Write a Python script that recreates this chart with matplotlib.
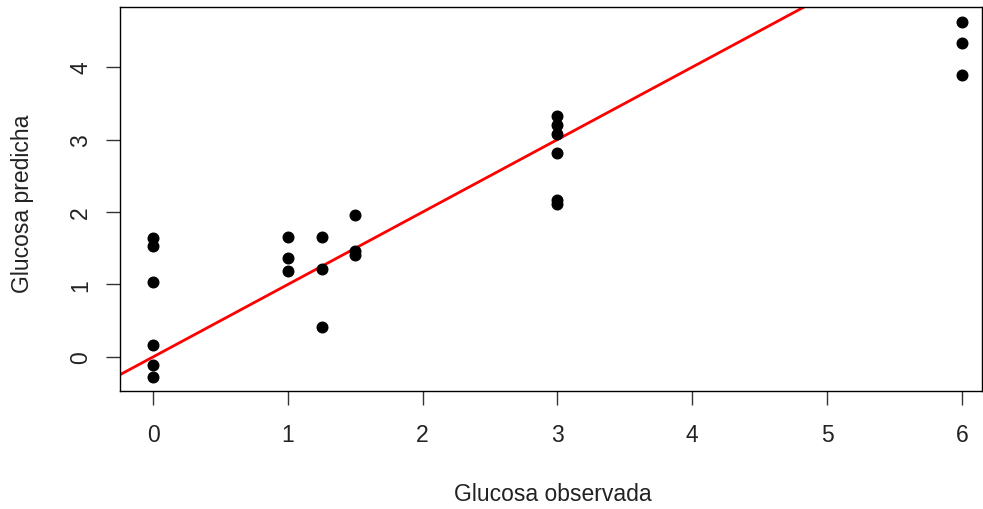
import matplotlib.pyplot as plt
import numpy as np

plt.rcParams['font.family'] = ['Liberation Sans', 'DejaVu Sans']

# observed vs predicted glucose
observada = [0, 0, 0, 0, 0, 0,
             1, 1, 1,
             1.25, 1.25, 1.25,
             1.5, 1.5, 1.5,
             3, 3, 3, 3, 3, 3,
             6, 6, 6]
predicha = [1.64, 1.53, 1.03, 0.165, -0.11, -0.27,
            1.65, 1.36, 1.18,
            1.65, 1.21, 0.41,
            1.96, 1.46, 1.41,
            3.32, 3.20, 3.08, 2.81, 2.16, 2.11,
            4.62, 4.34, 3.89]
xticks = [0, 1, 2, 3, 4, 5, 6]
yticks = [0, 1, 2, 3, 4]

fig = plt.figure(figsize=(9.83, 5.10), dpi=100)
ax = fig.add_axes([120 / 983, 118 / 510, 862 / 983, 384 / 510])

ax.scatter(observada, predicha, s=58, color='black', zorder=3)
ax.axline((0, 0), slope=1, color='red', linewidth=2, zorder=2)

ax.set_xlim(-0.245, 6.15)
ax.set_ylim(-0.47, 4.83)
ax.set_xticks(xticks)
ax.set_yticks(yticks)
ax.set_xticklabels([str(v) for v in xticks], fontsize=16.5, color='#222222')
ax.set_yticklabels([str(v) for v in yticks], fontsize=16.5, rotation=90,
                   va='center', color='#222222')
ax.tick_params(direction='out', length=10, width=1, pad=13, color='#333333')
ax.tick_params(axis='y', pad=10)
for s in ax.spines.values():
    s.set_linewidth(1)

ax.set_xlabel('Glucosa observada', fontsize=16.5, color='#222222')
ax.set_ylabel('Glucosa predicha', fontsize=16.5, color='#222222')
ax.xaxis.set_label_coords(0.502, -0.237)
ax.yaxis.set_label_coords(-0.1, 0.49)

plt.savefig('out.png', dpi=100)
